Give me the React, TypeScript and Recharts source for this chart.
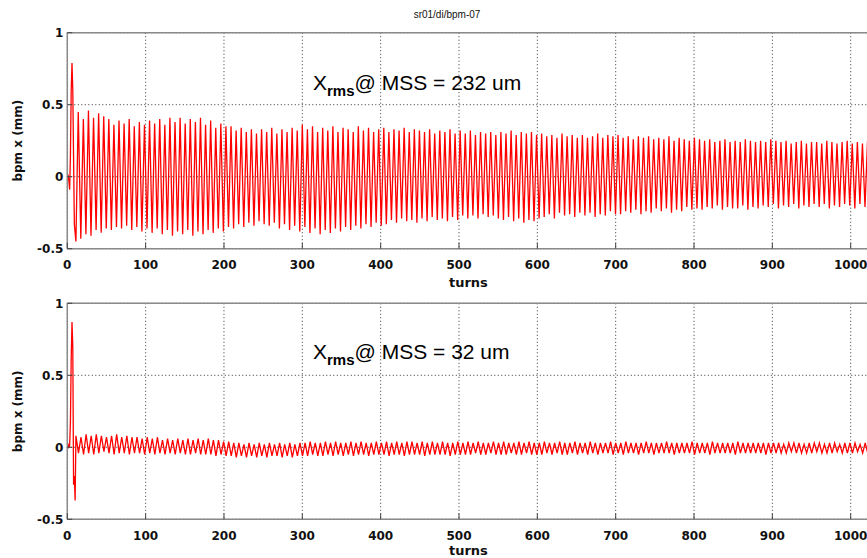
import React from "react";
import { LineChart, Line, XAxis, YAxis, CartesianGrid, ReferenceLine } from "recharts";

// ---- axis ticks ----
const xTicks = [0, 100, 200, 300, 400, 500, 600, 700, 800, 900, 1000];
const yTicks = [-0.5, 0, 0.5, 1];
const xDomain = [0, 1024];
const yDomain = [-0.5, 1];

// ---- top panel (232 um) ----
// kick transient: [turn, value]
const topKickTurns = [0, 1, 2, 3, 4, 5, 6, 7, 9, 11];
const topKickValues = [0.02, 0.01, -0.03, -0.09, 0.15, 0.6, 0.79, 0.6, -0.33, -0.45];
const topFirstPeakTurn = 14;
const cyclePeriod = 6.5; // turns per betatron oscillation
const topPeaks = [
  0.45, 0.40, 0.46, 0.41, 0.44, 0.42,
  0.40, 0.36, 0.39, 0.37, 0.40, 0.35, 0.38, 0.36,
  0.39, 0.37, 0.40, 0.36, 0.41, 0.38, 0.41, 0.37,
  0.40, 0.38, 0.41, 0.36, 0.39, 0.34, 0.37, 0.35,
  0.35, 0.32, 0.34, 0.31, 0.33, 0.30, 0.33,
  0.31, 0.34, 0.30, 0.33, 0.31, 0.34, 0.32, 0.36,
  0.33, 0.35, 0.31, 0.34, 0.32, 0.35, 0.31, 0.34,
  0.33, 0.31, 0.35, 0.32, 0.34, 0.31, 0.33,
  0.34, 0.31, 0.33, 0.32, 0.34, 0.31, 0.33, 0.32,
  0.31, 0.33, 0.30, 0.32, 0.31, 0.33, 0.30, 0.32,
  0.30, 0.32, 0.29, 0.31, 0.30, 0.31, 0.29,
  0.31, 0.30, 0.32, 0.29, 0.31, 0.30, 0.31, 0.29,
  0.30, 0.28, 0.29, 0.27, 0.30, 0.28, 0.29, 0.27,
  0.29, 0.27, 0.28, 0.30, 0.27, 0.29, 0.28,
  0.29, 0.27, 0.28, 0.26, 0.28, 0.27, 0.28, 0.26,
  0.27, 0.26, 0.28, 0.25, 0.27, 0.26, 0.25, 0.27,
  0.26, 0.25, 0.26, 0.24, 0.25, 0.26, 0.24,
  0.25, 0.24, 0.26, 0.25, 0.24, 0.25, 0.24, 0.26,
  0.25, 0.24, 0.25, 0.23, 0.24, 0.25, 0.23, 0.24,
  0.24, 0.23, 0.25, 0.24, 0.23, 0.24, 0.25, 0.23, 0.24, 0.23, 0.25,
];
const topTroughs = [
  -0.43, -0.40, -0.41, -0.37, -0.39, -0.36,
  -0.37, -0.35, -0.36, -0.34, -0.37, -0.35, -0.38, -0.36,
  -0.39, -0.36, -0.40, -0.37, -0.41, -0.38, -0.40, -0.37,
  -0.41, -0.38, -0.40, -0.37, -0.39, -0.36, -0.38, -0.35,
  -0.36, -0.33, -0.35, -0.32, -0.34, -0.31, -0.33,
  -0.34, -0.32, -0.36, -0.33, -0.37, -0.34, -0.38, -0.35,
  -0.39, -0.36, -0.40, -0.37, -0.39, -0.36, -0.38, -0.35,
  -0.37, -0.34, -0.36, -0.33, -0.35, -0.32, -0.34,
  -0.33, -0.30, -0.32, -0.29, -0.31, -0.30, -0.32, -0.29,
  -0.31, -0.28, -0.30, -0.29, -0.31, -0.28, -0.30, -0.27,
  -0.29, -0.27, -0.29, -0.26, -0.28, -0.27, -0.29,
  -0.30, -0.28, -0.31, -0.29, -0.32, -0.30, -0.31, -0.29,
  -0.28, -0.26, -0.29, -0.25, -0.27, -0.26, -0.28, -0.25,
  -0.27, -0.25, -0.28, -0.26, -0.27, -0.24, -0.26,
  -0.26, -0.24, -0.25, -0.23, -0.26, -0.24, -0.25, -0.22,
  -0.24, -0.22, -0.25, -0.23, -0.24, -0.21, -0.23, -0.22,
  -0.23, -0.21, -0.22, -0.20, -0.23, -0.21, -0.22,
  -0.22, -0.20, -0.23, -0.21, -0.22, -0.20, -0.21, -0.19,
  -0.22, -0.20, -0.21, -0.19, -0.22, -0.20, -0.21, -0.19,
  -0.21, -0.19, -0.22, -0.20, -0.21, -0.19, -0.20, -0.22, -0.19, -0.21, -0.20,
];

// ---- bottom panel (32 um) ----
const botKickTurns = [0, 1, 2, 3, 4, 5, 6, 7, 8, 9, 10];
const botKickValues = [0.01, 0.02, 0.0, 0.01, 0.18, 0.62, 0.87, 0.7, -0.26, -0.2, -0.37];
const botFirstPeakTurn = 11;
const botPeaks = [
  0.08, 0.07, 0.09, 0.08, 0.09, 0.08, 0.07, 0.08, 0.09, 0.07, 0.08, 0.07, 0.07, 0.06,
  0.07, 0.06, 0.07, 0.05, 0.06, 0.05, 0.06, 0.05, 0.06, 0.05, 0.06, 0.05, 0.06, 0.05, 0.05, 0.04,
  0.04, 0.03, 0.03, 0.02, 0.03, 0.02, 0.03, 0.02, 0.03, 0.02, 0.03, 0.02, 0.03, 0.02, 0.03,
  0.03, 0.04, 0.03, 0.03, 0.04, 0.03, 0.04, 0.03, 0.03, 0.04, 0.03, 0.04, 0.03, 0.03, 0.04,
  0.03, 0.04, 0.03, 0.04, 0.03, 0.04, 0.04, 0.03, 0.04, 0.03, 0.04, 0.03, 0.04, 0.03, 0.03, 0.04,
  0.03, 0.04, 0.03, 0.04, 0.03, 0.03, 0.04, 0.03, 0.04, 0.03, 0.03, 0.04, 0.03, 0.04, 0.03,
  0.03, 0.04, 0.03, 0.03, 0.04, 0.03, 0.03, 0.04, 0.03, 0.03, 0.04, 0.03, 0.03, 0.03, 0.04,
  0.03, 0.03, 0.04, 0.03, 0.03, 0.03, 0.04, 0.03, 0.03, 0.03, 0.04, 0.03, 0.03, 0.03, 0.03, 0.04,
  0.03, 0.03, 0.03, 0.04, 0.03, 0.03, 0.03, 0.03, 0.04, 0.03, 0.03, 0.03, 0.03, 0.03, 0.03,
  0.03, 0.03, 0.02, 0.03, 0.03, 0.03, 0.02, 0.03, 0.03, 0.03, 0.02, 0.03, 0.03, 0.02, 0.03, 0.03, 0.03, 0.02, 0.03,
];
const botTroughs = [
  -0.04, -0.05, -0.04, -0.05, -0.04, -0.03, -0.04, -0.05, -0.04, -0.04, -0.05, -0.04, -0.04, -0.05,
  -0.04, -0.05, -0.04, -0.05, -0.04, -0.05, -0.04, -0.05, -0.05, -0.04, -0.05, -0.05, -0.05, -0.06, -0.05, -0.06,
  -0.06, -0.07, -0.06, -0.07, -0.06, -0.07, -0.06, -0.07, -0.06, -0.06, -0.07, -0.06, -0.07, -0.06, -0.06,
  -0.06, -0.05, -0.06, -0.06, -0.05, -0.06, -0.05, -0.06, -0.05, -0.06, -0.05, -0.05, -0.06, -0.05, -0.05,
  -0.05, -0.06, -0.05, -0.05, -0.06, -0.05, -0.05, -0.05, -0.06, -0.05, -0.05, -0.05, -0.05, -0.06, -0.05, -0.05,
  -0.05, -0.05, -0.04, -0.05, -0.05, -0.04, -0.05, -0.05, -0.05, -0.04, -0.05, -0.05, -0.04, -0.05, -0.05,
  -0.05, -0.04, -0.05, -0.04, -0.05, -0.05, -0.04, -0.05, -0.04, -0.05, -0.04, -0.05, -0.04, -0.04, -0.05,
  -0.04, -0.05, -0.04, -0.04, -0.05, -0.04, -0.04, -0.05, -0.04, -0.04, -0.04, -0.05, -0.04, -0.04, -0.04, -0.05,
  -0.04, -0.04, -0.05, -0.04, -0.04, -0.04, -0.04, -0.05, -0.04, -0.04, -0.04, -0.04, -0.04, -0.05, -0.04,
  -0.04, -0.04, -0.04, -0.03, -0.04, -0.04, -0.04, -0.04, -0.03, -0.04, -0.04, -0.04, -0.03, -0.04, -0.04, -0.04, -0.03, -0.04, -0.04,
];

// ---- texts ----
const titleText = "sr01/di/bpm-07";
const yLabelText = "bpm x (mm)";
const xLabelText = "turns";
const topNote = "@ MSS = 232 um";
const botNote = "@ MSS = 32 um";

function buildSeries(kickTurns: number[], kickValues: number[], firstPeak: number, peaks: number[], troughs: number[]) {
  const rows: { turn: number; v: number }[] = [];
  kickTurns.forEach((t, i) => rows.push({ turn: t, v: kickValues[i] }));
  const n = Math.min(peaks.length, troughs.length);
  for (let i = 0; i < n; i++) {
    const t = firstPeak + i * cyclePeriod;
    rows.push({ turn: t, v: peaks[i] });
    if (t + cyclePeriod / 2 <= xDomain[1]) rows.push({ turn: t + cyclePeriod / 2, v: troughs[i] });
  }
  return rows;
}

const topData = buildSeries(topKickTurns, topKickValues, topFirstPeakTurn, topPeaks, topTroughs);
const botData = buildSeries(botKickTurns, botKickValues, botFirstPeakTurn, botPeaks, botTroughs);

const TICK_FONT = "'DejaVu Sans', sans-serif";
const AXIS_COLOR = "#8a8a8a";

const XTick = (props: any) => {
  const { x, y, payload } = props;
  return (
    <g>
      <line x1={x} x2={x} y1={y} y2={y - 6} stroke="#444" strokeWidth={1} />
      <text x={x} y={y + 20.5} textAnchor="middle" fontFamily={TICK_FONT} fontWeight="bold" fontSize={12} fill="#111">
        {payload.value}
      </text>
    </g>
  );
};

const YTick = (props: any) => {
  const { x, y, payload } = props;
  return (
    <g>
      <line x1={x} x2={x + 5} y1={y} y2={y} stroke="#444" strokeWidth={1} />
      <text x={x - 4} y={y + 4.5} textAnchor="end" fontFamily={TICK_FONT} fontWeight="bold" fontSize={12} fill="#111">
        {payload.value}
      </text>
    </g>
  );
};

const YLabel = (props: any) => {
  const vb = props.viewBox || {};
  const cx = vb.x + 19;
  const cy = vb.y + vb.height / 2;
  return (
    <text x={cx} y={cy} transform={`rotate(-90 ${cx} ${cy})`} textAnchor="middle" dominantBaseline="middle"
      fontFamily={TICK_FONT} fontWeight="bold" fontSize={12} fill="#111">
      {yLabelText}
    </text>
  );
};

const XLabel = (offset: number) => (props: any) => {
  const vb = props.viewBox || {};
  return (
    <text x={vb.x + vb.width / 2} y={vb.y + offset} textAnchor="middle"
      fontFamily={TICK_FONT} fontWeight="bold" fontSize={13} fill="#111">
      {xLabelText}
    </text>
  );
};

function Panel({ data, top, height, marginTop, xLabelOffset }: any) {
  const xAxisHeight = height - marginTop - 216;
  return (
    <div style={{ position: "absolute", left: 0, top }}>
      <LineChart width={880} height={height} data={data} margin={{ top: marginTop, right: 10.5, bottom: 0, left: 0 }}>
        <CartesianGrid stroke="#333" strokeDasharray="1 2.5" strokeWidth={1} />
        <XAxis dataKey="turn" type="number" domain={xDomain} ticks={xTicks} allowDataOverflow interval={0}
          height={xAxisHeight} tickSize={0} tickMargin={0} tick={<XTick />}
          axisLine={{ stroke: AXIS_COLOR, strokeWidth: 1.5 }} tickLine={false}
          label={{ content: XLabel(xLabelOffset) }} />
        <YAxis type="number" domain={yDomain} ticks={yTicks} allowDataOverflow interval={0}
          width={67.3} tickSize={0} tickMargin={0} tick={<YTick />}
          axisLine={{ stroke: AXIS_COLOR, strokeWidth: 1.5 }} tickLine={false}
          label={{ content: <YLabel /> }} />
        <ReferenceLine y={1} stroke={AXIS_COLOR} strokeWidth={1.5} />
        <ReferenceLine x={1024} stroke={AXIS_COLOR} strokeWidth={1.5} />
        <Line type="linear" dataKey="v" stroke="#ff0000" strokeWidth={1.3} dot={false} isAnimationActive={false} />
      </LineChart>
    </div>
  );
}

export default function App() {
  const noteFont = "'Liberation Sans', Arial, sans-serif";
  return (
    <div style={{ position: "fixed", left: 0, top: 0, width: 867, height: 558, overflow: "hidden", background: "#fff" }}>
      <Panel data={topData} top={0} height={300} marginTop={32.7} xLabelOffset={38} />
      <Panel data={botData} top={270} height={288} marginTop={33.3} xLabelOffset={36} />
      <svg width={867} height={558} style={{ position: "absolute", left: 0, top: 0, pointerEvents: "none" }}>
        <text x={447} y={18} textAnchor="middle" fontFamily={noteFont} fontSize={10} fill="#111">{titleText}</text>
        <text x={313} y={90} fontFamily={noteFont} fontSize={21} fill="#000">
          X<tspan fontSize={15} fontWeight="bold" dy={6}>rms</tspan><tspan dy={-6}>{topNote}</tspan>
        </text>
        <text x={313} y={359} fontFamily={noteFont} fontSize={21} fill="#000">
          X<tspan fontSize={15} fontWeight="bold" dy={6}>rms</tspan><tspan dy={-6}>{botNote}</tspan>
        </text>
      </svg>
    </div>
  );
}
